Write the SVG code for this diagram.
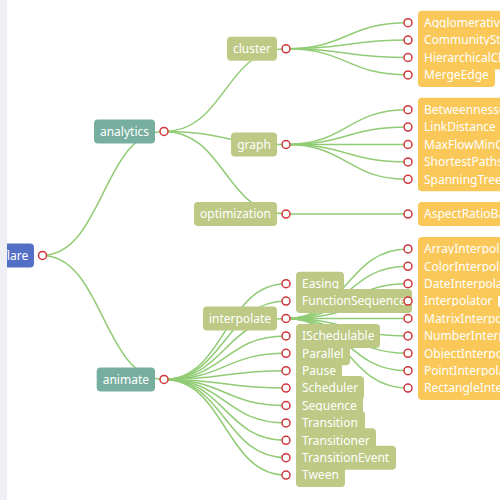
<svg xmlns="http://www.w3.org/2000/svg" width="500" height="500" viewBox="0 0 500 500">
<style>
.lk{fill:none;stroke:#91cc75;stroke-width:1.5}
.sym{fill:#fff;stroke:#d0363b;stroke-width:1.5}
.t{font-family:"Noto Sans","Liberation Sans",sans-serif;font-size:12px;fill:#fff;text-anchor:middle}
.l{font-family:"Noto Sans","Liberation Sans",sans-serif;font-size:12px;fill:#fff;text-anchor:start}
.b0{fill:#5470c6}
.b1{fill:#76ae9f}
.b2{fill:#bdc984}
.b3{fill:#fac858}
</style>
<rect width="500" height="500" fill="#fff"/>
<g id="links">
<path class="lk" d="M42,255.4C103,255.4 103,131.45 164,131.45"/>
<path class="lk" d="M42,255.4C103,255.4 103,379.4 164,379.4"/>
<path class="lk" d="M164,131.45C225,131.45 225,48.8 286,48.8"/>
<path class="lk" d="M164,131.45C225,131.45 225,144.5 286,144.5"/>
<path class="lk" d="M164,131.45C225,131.45 225,214.1 286,214.1"/>
<path class="lk" d="M286,48.8C347,48.8 347,22.7 408,22.7"/>
<path class="lk" d="M286,48.8C347,48.8 347,40.1 408,40.1"/>
<path class="lk" d="M286,48.8C347,48.8 347,57.5 408,57.5"/>
<path class="lk" d="M286,48.8C347,48.8 347,74.9 408,74.9"/>
<path class="lk" d="M286,144.5C347,144.5 347,109.7 408,109.7"/>
<path class="lk" d="M286,144.5C347,144.5 347,127.1 408,127.1"/>
<path class="lk" d="M286,144.5C347,144.5 347,144.5 408,144.5"/>
<path class="lk" d="M286,144.5C347,144.5 347,161.9 408,161.9"/>
<path class="lk" d="M286,144.5C347,144.5 347,179.3 408,179.3"/>
<path class="lk" d="M286,214.1C347,214.1 347,214.1 408,214.1"/>
<path class="lk" d="M164,379.4C225,379.4 225,283.7 286,283.7"/>
<path class="lk" d="M164,379.4C225,379.4 225,301.1 286,301.1"/>
<path class="lk" d="M164,379.4C225,379.4 225,318.5 286,318.5"/>
<path class="lk" d="M164,379.4C225,379.4 225,335.9 286,335.9"/>
<path class="lk" d="M164,379.4C225,379.4 225,353.3 286,353.3"/>
<path class="lk" d="M164,379.4C225,379.4 225,370.7 286,370.7"/>
<path class="lk" d="M164,379.4C225,379.4 225,388.1 286,388.1"/>
<path class="lk" d="M164,379.4C225,379.4 225,405.5 286,405.5"/>
<path class="lk" d="M164,379.4C225,379.4 225,422.9 286,422.9"/>
<path class="lk" d="M164,379.4C225,379.4 225,440.3 286,440.3"/>
<path class="lk" d="M164,379.4C225,379.4 225,457.7 286,457.7"/>
<path class="lk" d="M164,379.4C225,379.4 225,475.1 286,475.1"/>
<path class="lk" d="M286,318.5C347,318.5 347,248.9 408,248.9"/>
<path class="lk" d="M286,318.5C347,318.5 347,266.3 408,266.3"/>
<path class="lk" d="M286,318.5C347,318.5 347,283.7 408,283.7"/>
<path class="lk" d="M286,318.5C347,318.5 347,301.1 408,301.1"/>
<path class="lk" d="M286,318.5C347,318.5 347,318.5 408,318.5"/>
<path class="lk" d="M286,318.5C347,318.5 347,335.9 408,335.9"/>
<path class="lk" d="M286,318.5C347,318.5 347,353.3 408,353.3"/>
<path class="lk" d="M286,318.5C347,318.5 347,370.7 408,370.7"/>
<path class="lk" d="M286,318.5C347,318.5 347,388.1 408,388.1"/>
</g>
<g id="flare"><rect class="b0" x="-4" y="243.4" width="38" height="24" rx="4"/><text class="t" x="15.5" y="259.6">flare</text><circle class="sym" cx="42.5" cy="255.4" r="4"/></g>
<g id="analytics"><rect class="b1" x="94" y="119.45" width="61" height="24" rx="4"/><text class="t" x="124.5" y="135.6">analytics</text><circle class="sym" cx="164" cy="131.45" r="4"/></g>
<g id="cluster"><rect class="b2" x="227" y="36.8" width="50" height="24" rx="4"/><text class="t" x="252" y="53">cluster</text><circle class="sym" cx="286" cy="48.8" r="4"/></g>
<g id="AgglomerativeCluster"><rect class="b3" x="418" y="10.7" width="140" height="24" rx="4"/><text class="l" x="424" y="26.9">AgglomerativeCluster</text><circle class="sym" cx="408" cy="22.7" r="4"/></g>
<g id="CommunityStructure"><rect class="b3" x="418" y="28.1" width="130" height="24" rx="4"/><text class="l" x="424" y="44.3">CommunityStructure</text><circle class="sym" cx="408" cy="40.1" r="4"/></g>
<g id="HierarchicalCluster"><rect class="b3" x="418" y="45.5" width="126" height="24" rx="4"/><text class="l" x="424" y="61.7">HierarchicalCluster</text><circle class="sym" cx="408" cy="57.5" r="4"/></g>
<g id="MergeEdge"><rect class="b3" x="418" y="62.9" width="77" height="24" rx="4"/><text class="l" x="424" y="79.1">MergeEdge</text><circle class="sym" cx="408" cy="74.9" r="4"/></g>
<g id="graph"><rect class="b2" x="231" y="132.5" width="46" height="24" rx="4"/><text class="t" x="254" y="148.7">graph</text><circle class="sym" cx="286" cy="144.5" r="4"/></g>
<g id="BetweennessCentrality"><rect class="b3" x="418" y="97.7" width="146" height="24" rx="4"/><text class="l" x="424" y="113.9">BetweennessCentrality</text><circle class="sym" cx="408" cy="109.7" r="4"/></g>
<g id="LinkDistance"><rect class="b3" x="418" y="115.1" width="84" height="24" rx="4"/><text class="l" x="424" y="131.3">LinkDistance</text><circle class="sym" cx="408" cy="127.1" r="4"/></g>
<g id="MaxFlowMinCut"><rect class="b3" x="418" y="132.5" width="110" height="24" rx="4"/><text class="l" x="424" y="148.7">MaxFlowMinCut</text><circle class="sym" cx="408" cy="144.5" r="4"/></g>
<g id="ShortestPaths"><rect class="b3" x="418" y="149.9" width="96" height="24" rx="4"/><text class="l" x="424" y="166.1">ShortestPaths</text><circle class="sym" cx="408" cy="161.9" r="4"/></g>
<g id="SpanningTree"><rect class="b3" x="418" y="167.3" width="94" height="24" rx="4"/><text class="l" x="424" y="183.5">SpanningTree</text><circle class="sym" cx="408" cy="179.3" r="4"/></g>
<g id="optimization"><rect class="b2" x="194" y="202.1" width="83" height="24" rx="4"/><text class="t" x="235.5" y="218.3">optimization</text><circle class="sym" cx="286" cy="214.1" r="4"/></g>
<g id="AspectRatioBanker"><rect class="b3" x="418" y="202.1" width="126" height="24" rx="4"/><text class="l" x="424" y="218.3">AspectRatioBanker</text><circle class="sym" cx="408" cy="214.1" r="4"/></g>
<g id="animate"><rect class="b1" x="96.7" y="367.4" width="58.3" height="24" rx="4"/><text class="t" x="125.85" y="383.6">animate</text><circle class="sym" cx="164" cy="379.4" r="4"/></g>
<g id="Easing"><rect class="b2" x="296" y="271.7" width="48" height="24" rx="4"/><text class="l" x="302" y="287.9">Easing</text><circle class="sym" cx="286" cy="283.7" r="4"/></g>
<g id="FunctionSequence"><rect class="b2" x="296" y="289.1" width="116" height="24" rx="4"/><text class="l" x="302" y="305.3">FunctionSequence</text><circle class="sym" cx="286" cy="301.1" r="4"/></g>
<g id="interpolate"><rect class="b2" x="203" y="306.5" width="74" height="24" rx="4"/><text class="t" x="240" y="322.7">interpolate</text><circle class="sym" cx="286" cy="318.5" r="4"/></g>
<g id="ArrayInterpolator"><rect class="b3" x="418" y="236.9" width="116" height="24" rx="4"/><text class="l" x="424" y="253.1">ArrayInterpolator</text><circle class="sym" cx="408" cy="248.9" r="4"/></g>
<g id="ColorInterpolator"><rect class="b3" x="418" y="254.3" width="116" height="24" rx="4"/><text class="l" x="424" y="270.5">ColorInterpolator</text><circle class="sym" cx="408" cy="266.3" r="4"/></g>
<g id="DateInterpolator"><rect class="b3" x="418" y="271.7" width="112" height="24" rx="4"/><text class="l" x="424" y="287.9">DateInterpolator</text><circle class="sym" cx="408" cy="283.7" r="4"/></g>
<g id="Interpolator"><rect class="b3" x="418" y="289.1" width="80" height="24" rx="4"/><text class="l" x="424" y="305.3">Interpolator</text><circle class="sym" cx="408" cy="301.1" r="4"/></g>
<g id="MatrixInterpolator"><rect class="b3" x="418" y="306.5" width="120" height="24" rx="4"/><text class="l" x="424" y="322.7">MatrixInterpolator</text><circle class="sym" cx="408" cy="318.5" r="4"/></g>
<g id="NumberInterpolator"><rect class="b3" x="418" y="323.9" width="128" height="24" rx="4"/><text class="l" x="424" y="340.1">NumberInterpolator</text><circle class="sym" cx="408" cy="335.9" r="4"/></g>
<g id="ObjectInterpolator"><rect class="b3" x="418" y="341.3" width="122" height="24" rx="4"/><text class="l" x="424" y="357.5">ObjectInterpolator</text><circle class="sym" cx="408" cy="353.3" r="4"/></g>
<g id="PointInterpolator"><rect class="b3" x="418" y="358.7" width="116" height="24" rx="4"/><text class="l" x="424" y="374.9">PointInterpolator</text><circle class="sym" cx="408" cy="370.7" r="4"/></g>
<g id="RectangleInterpolator"><rect class="b3" x="418" y="376.1" width="140" height="24" rx="4"/><text class="l" x="424" y="392.3">RectangleInterpolator</text><circle class="sym" cx="408" cy="388.1" r="4"/></g>
<g id="ISchedulable"><rect class="b2" x="296" y="323.9" width="84" height="24" rx="4"/><text class="l" x="302" y="340.1">ISchedulable</text><circle class="sym" cx="286" cy="335.9" r="4"/></g>
<g id="Parallel"><rect class="b2" x="296" y="341.3" width="54" height="24" rx="4"/><text class="l" x="302" y="357.5">Parallel</text><circle class="sym" cx="286" cy="353.3" r="4"/></g>
<g id="Pause"><rect class="b2" x="296" y="358.7" width="46" height="24" rx="4"/><text class="l" x="302" y="374.9">Pause</text><circle class="sym" cx="286" cy="370.7" r="4"/></g>
<g id="Scheduler"><rect class="b2" x="296" y="376.1" width="68" height="24" rx="4"/><text class="l" x="302" y="392.3">Scheduler</text><circle class="sym" cx="286" cy="388.1" r="4"/></g>
<g id="Sequence"><rect class="b2" x="296" y="393.5" width="67" height="24" rx="4"/><text class="l" x="302" y="409.7">Sequence</text><circle class="sym" cx="286" cy="405.5" r="4"/></g>
<g id="Transition"><rect class="b2" x="296" y="410.9" width="69" height="24" rx="4"/><text class="l" x="302" y="427.1">Transition</text><circle class="sym" cx="286" cy="422.9" r="4"/></g>
<g id="Transitioner"><rect class="b2" x="296" y="428.3" width="80" height="24" rx="4"/><text class="l" x="302" y="444.5">Transitioner</text><circle class="sym" cx="286" cy="440.3" r="4"/></g>
<g id="TransitionEvent"><rect class="b2" x="296" y="445.7" width="100" height="24" rx="4"/><text class="l" x="302" y="461.9">TransitionEvent</text><circle class="sym" cx="286" cy="457.7" r="4"/></g>
<g id="Tween"><rect class="b2" x="296" y="463.1" width="49" height="24" rx="4"/><text class="l" x="302" y="479.3">Tween</text><circle class="sym" cx="286" cy="475.1" r="4"/></g>
<rect x="0" y="0" width="7" height="500" fill="#eef0f6"/>
</svg>
